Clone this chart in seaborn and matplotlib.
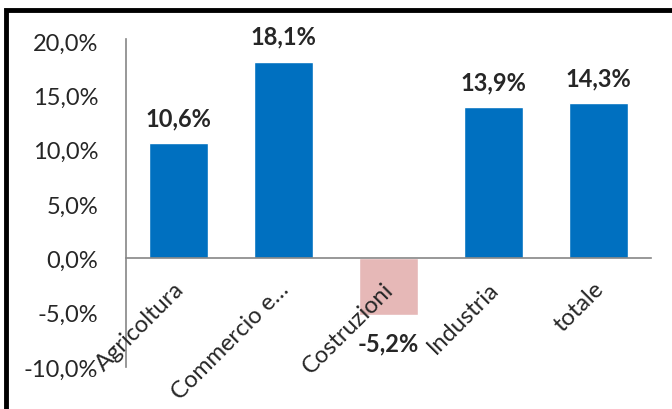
import matplotlib
matplotlib.use("Agg")
import matplotlib.pyplot as plt
import matplotlib.transforms as mtransforms
import seaborn as sns
import pandas as pd
from matplotlib.patches import Rectangle

categories = ["Agricoltura", "Commercio e…", "Costruzioni", "Industria", "totale"]
values = [10.6, 18.1, -5.2, 13.9, 14.3]
value_labels = ["10,6%", "18,1%", "-5,2%", "13,9%", "14,3%"]
y_ticks = [-10, -5, 0, 5, 10, 15, 20]
y_tick_labels = ["-10,0%", "-5,0%", "0,0%", "5,0%", "10,0%", "15,0%", "20,0%"]

df = pd.DataFrame({"settore": categories, "var": values})
colors = ["#0070C0" if v >= 0 else "#E6B8B7" for v in values]

sns.set_style("white")
plt.rcParams["font.family"] = ["Lato", "DejaVu Sans"]

fig = plt.figure(figsize=(6.72, 4.10), dpi=100)
ax = fig.add_axes([126 / 672, 1 - 368 / 410, 525 / 672, 328 / 410])

sns.barplot(data=df, x="settore", y="var", hue="settore", palette=colors,
            legend=False, width=0.57, saturation=1, ax=ax)
ax.set_axisbelow(False)

ax.set_ylim(-10, 20.2)
ax.set_yticks(y_ticks)
ax.set_yticklabels(y_tick_labels, fontsize=17)
ax.set_xlabel("")
ax.set_ylabel("")

ax.spines["bottom"].set_position(("data", 0))
for s in ["top", "right"]:
    ax.spines[s].set_visible(False)
for s in ["left", "bottom"]:
    ax.spines[s].set_color("#868686")
    ax.spines[s].set_linewidth(1.2)
ax.tick_params(axis="both", length=0)
ax.tick_params(axis="y", pad=20)
ax.tick_params(axis="x", pad=14)
shift = mtransforms.ScaledTranslation(-4 / 72, 0, fig.dpi_scale_trans)
for lab in ax.get_xticklabels():
    lab.set_rotation(45)
    lab.set_ha("right")
    lab.set_rotation_mode("anchor")
    lab.set_fontsize(17)
    lab.set_transform(lab.get_transform() + shift)

for i, (v, lab) in enumerate(zip(values, value_labels)):
    if v >= 0:
        ax.annotate(lab, (i, v), xytext=(0, 10), textcoords="offset points",
                    ha="center", va="bottom", fontsize=17, fontweight="bold")
    else:
        ax.annotate(lab, (i, v), xytext=(0, -12), textcoords="offset points",
                    ha="center", va="top", fontsize=17, fontweight="bold")

# chart frame (cut off at right/bottom in the original)
fig.patches.append(Rectangle((6 / 672, -0.1), 1.2, 1 - 11 / 410 + 0.1,
                             transform=fig.transFigure, fill=False,
                             edgecolor="black", linewidth=3.5))

fig.savefig("out.png", dpi=100)
